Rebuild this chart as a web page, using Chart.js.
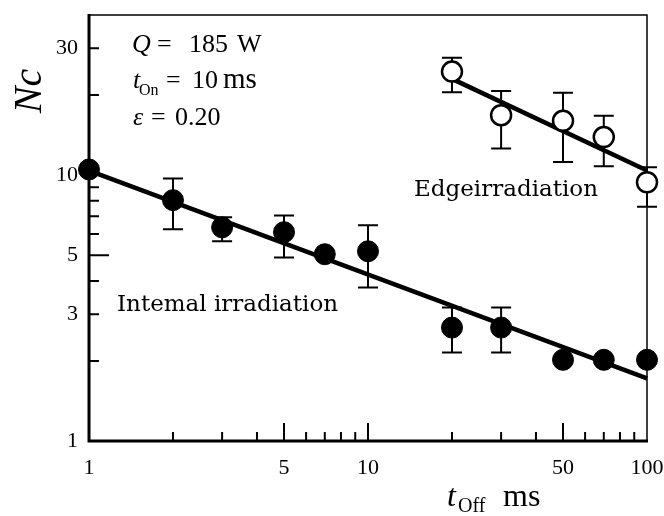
<!DOCTYPE html>
<html>
<head>
<meta charset="utf-8">
<script src="https://cdn.jsdelivr.net/npm/chart.js"></script>
<style>
  html, body { margin: 0; padding: 0; background: #fff; }
</style>
</head>
<body>
<canvas id="chart" width="664" height="516"></canvas>
<script>
// t_Off (ms) and measured Nc
const offTimes = [1, 2, 3, 5, 7, 10, 20, 30, 50, 70, 100];
const internalNc = [10.5, 8.05, 6.36, 6.1, 5.04, 5.17, 2.67, 2.67, 2.02, 2.02, 2.02];
const internalLow = [null, 6.25, 5.64, 4.9, null, 3.78, 2.15, 2.15, null, null, null];
const internalHigh = [null, 9.7, 6.94, 7.05, null, 6.48, 3.18, 3.18, null, null, null];

const edgeTimes = [20, 30, 50, 70, 100];
const edgeNc = [24.5, 16.8, 16.0, 13.9, 9.4];
const edgeLow = [20.5, 12.6, 11.2, 10.8, 7.6];
const edgeHigh = [27.6, 20.7, 20.4, 16.7, 10.7];

// fitted lines (end points)
const internalFitX = [1, 100];
const internalFitY = [10.4, 1.72];
const edgeFitX = [20, 100];
const edgeFitY = [23.0, 10.4];

// axis ticks
const xLabels = [1, 5, 10, 50, 100];
const yLabels = [1, 3, 5, 10, 30];
const xMinor = [2, 3, 4, 6, 7, 8, 9, 20, 30, 40, 60, 70, 80, 90];
const xMajor = [5, 10, 50];
const yMinor = [2, 3, 4, 6, 7, 8, 9, 10, 20, 30];
const yMajor = [5];

const serif = 'Liberation Serif';
const serif2 = 'DejaVu Serif';

function pts(xs, ys) {
  return xs.map((x, i) => ({ x: x, y: ys[i] }));
}

function put(ctx, str, x, y, font, align) {
  ctx.font = font;
  ctx.textAlign = align || 'left';
  ctx.textBaseline = 'alphabetic';
  ctx.fillText(str, x, y);
}

function errorBars(ctx, xs, xsc, ysc, lows, highs) {
  xs.forEach((t, i) => {
    if (lows[i] == null) return;
    const px = xsc.getPixelForValue(t);
    const lo = ysc.getPixelForValue(lows[i]);
    const hi = ysc.getPixelForValue(highs[i]);
    ctx.beginPath();
    ctx.moveTo(px, lo); ctx.lineTo(px, hi);
    ctx.moveTo(px - 10, lo); ctx.lineTo(px + 10, lo);
    ctx.moveTo(px - 10, hi); ctx.lineTo(px + 10, hi);
    ctx.stroke();
  });
}

const decor = {
  id: 'decor',
  beforeDatasetsDraw(chart) {
    const ctx = chart.ctx;
    const a = chart.chartArea;
    const xs = chart.scales.x, ys = chart.scales.y;
    ctx.save();
    ctx.strokeStyle = '#000';
    ctx.lineCap = 'butt';

    // frame
    ctx.lineWidth = 1.5;
    ctx.beginPath();
    ctx.moveTo(a.left, a.top); ctx.lineTo(a.right, a.top); ctx.lineTo(a.right, a.bottom);
    ctx.stroke();
    ctx.lineWidth = 3;
    ctx.beginPath();
    ctx.moveTo(a.left, a.top - 1); ctx.lineTo(a.left, a.bottom); ctx.lineTo(a.right + 1, a.bottom);
    ctx.stroke();

    // inward ticks
    ctx.lineWidth = 2;
    ctx.beginPath();
    xMinor.forEach(v => { const p = xs.getPixelForValue(v); ctx.moveTo(p, a.bottom); ctx.lineTo(p, a.bottom - 9); });
    xMajor.forEach(v => { const p = xs.getPixelForValue(v); ctx.moveTo(p, a.bottom); ctx.lineTo(p, a.bottom - 18); });
    yMinor.forEach(v => { const p = ys.getPixelForValue(v); ctx.moveTo(a.left, p); ctx.lineTo(a.left + 10, p); });
    yMajor.forEach(v => { const p = ys.getPixelForValue(v); ctx.moveTo(a.left, p); ctx.lineTo(a.left + 20, p); });
    ctx.stroke();

    // error bars
    ctx.lineWidth = 2;
    errorBars(ctx, offTimes, xs, ys, internalLow, internalHigh);
    errorBars(ctx, edgeTimes, xs, ys, edgeLow, edgeHigh);
    ctx.restore();
  },
  afterDraw(chart) {
    const ctx = chart.ctx;
    ctx.save();
    ctx.fillStyle = '#000';

    // condition block
    put(ctx, 'Q', 132, 52, 'italic 26px ' + serif);
    put(ctx, '=', 157, 52, '26px ' + serif);
    put(ctx, '185', 189, 52, '26px ' + serif);
    put(ctx, 'W', 237, 52, '26px ' + serif);

    put(ctx, 't', 133, 88, 'italic 26px ' + serif);
    put(ctx, 'On', 139, 95, '16px ' + serif);
    put(ctx, '=', 166, 88, '26px ' + serif);
    put(ctx, '10', 192, 88, '26px ' + serif);
    put(ctx, 'ms', 223, 88, '29px ' + serif);

    put(ctx, 'ε', 133, 125, 'italic 26px ' + serif);
    put(ctx, '=', 151, 125, '26px ' + serif);
    put(ctx, '0.20', 175, 125, '26px ' + serif);

    // series labels
    put(ctx, 'Edgeirradiation', 414, 196, '23px ' + serif2);
    put(ctx, 'Intemal irradiation', 117, 311, '23px ' + serif2);

    // axis titles
    put(ctx, 't', 447, 506, 'italic 32px ' + serif);
    put(ctx, 'Off', 458, 512, '20px ' + serif);
    put(ctx, 'ms', 503, 506, '32px ' + serif);

    ctx.translate(41, 91);
    ctx.rotate(-Math.PI / 2);
    put(ctx, 'Nc', 0, 0, 'italic 40px ' + serif, 'center');
    ctx.restore();
  }
};

function drawChart() {
  new Chart(document.getElementById('chart').getContext('2d'), {
    type: 'scatter',
    data: {
      datasets: [
        {
          label: 'Internal irradiation',
          data: pts(offTimes, internalNc),
          pointRadius: 10.5,
          pointBackgroundColor: '#000',
          pointBorderColor: '#000',
          pointBorderWidth: 1,
          clip: false,
          order: 0
        },
        {
          label: 'Edge irradiation',
          data: pts(edgeTimes, edgeNc),
          pointRadius: 10,
          pointBackgroundColor: '#fff',
          pointBorderColor: '#000',
          pointBorderWidth: 2.5,
          clip: false,
          order: 1
        },
        {
          label: 'Internal fit',
          data: pts(internalFitX, internalFitY),
          showLine: true,
          borderColor: '#000',
          borderWidth: 4.5,
          pointRadius: 0,
          clip: false,
          order: 2
        },
        {
          label: 'Edge fit',
          data: pts(edgeFitX, edgeFitY),
          showLine: true,
          borderColor: '#000',
          borderWidth: 4.5,
          pointRadius: 0,
          clip: false,
          order: 3
        }
      ]
    },
    options: {
      responsive: false,
      animation: false,
      events: [],
      devicePixelRatio: 1,
      layout: { padding: { top: 15, right: 17, left: 0, bottom: 0 } },
      plugins: {
        legend: { display: false },
        tooltip: { enabled: false }
      },
      scales: {
        x: {
          type: 'logarithmic',
          min: 1,
          max: 100,
          grid: { display: false, drawTicks: false },
          border: { display: false },
          ticks: {
            color: '#000',
            font: { family: serif, size: 22 },
            padding: 14,
            maxRotation: 0,
            autoSkip: false,
            callback: v => String(v)
          },
          afterBuildTicks: s => { s.ticks = xLabels.map(v => ({ value: v })); },
          afterFit: s => { s.height = 75; s.paddingLeft = 0; s.paddingRight = 0; }
        },
        y: {
          type: 'logarithmic',
          min: 1,
          max: 40,
          grid: { display: false, drawTicks: false },
          border: { display: false },
          ticks: {
            color: '#000',
            font: { family: serif, size: 22 },
            padding: 11,
            autoSkip: false,
            callback: v => String(v)
          },
          afterBuildTicks: s => { s.ticks = yLabels.map(v => ({ value: v })); },
          afterFit: s => { s.width = 89; s.paddingTop = 0; s.paddingBottom = 0; }
        }
      }
    },
    plugins: [decor]
  });
}

Promise.all([
  document.fonts.load('26px "Liberation Serif"'),
  document.fonts.load('italic 26px "Liberation Serif"'),
  document.fonts.load('23px "DejaVu Serif"')
]).then(drawChart, drawChart);
</script>
</body>
</html>
